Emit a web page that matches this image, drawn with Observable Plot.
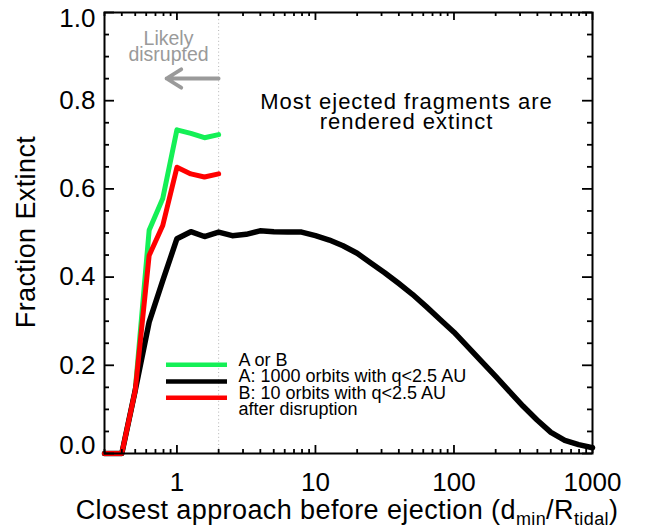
<!DOCTYPE html>
<html>
<head>
<meta charset="utf-8">
<script src="https://cdn.jsdelivr.net/npm/d3@7"></script>
<script src="https://cdn.jsdelivr.net/npm/@observablehq/plot@0.6"></script>
<style>
  html, body { margin: 0; padding: 0; background: #fff; }
</style>
</head>
<body>
<div id="chart"></div>
<script>
// ---------- DATA ----------
const dminA = [0.3, 0.4, 0.5, 0.63, 0.79, 1.0, 1.26, 1.58, 2.0, 2.51, 3.16, 3.98, 5.01, 6.31, 7.94,
               10, 12.6, 15.8, 20, 25.1, 31.6, 39.8, 50.1, 63.1, 79.4,
               100, 126, 158, 200, 251, 316, 398, 501, 631, 794, 1000];
const fracA  = [0, 0, 0.143, 0.298, 0.392, 0.487, 0.503, 0.492, 0.502, 0.494, 0.497, 0.505, 0.503, 0.502, 0.502,
                0.494, 0.484, 0.471, 0.454, 0.432, 0.410, 0.386, 0.361, 0.333, 0.304,
                0.275, 0.242, 0.209, 0.175, 0.141, 0.107, 0.076, 0.048, 0.030, 0.020, 0.013];
const dminB  = [0.3, 0.4, 0.5, 0.63, 0.79, 1.0, 1.26, 1.58, 2.0];
const fracB  = [0, 0, 0.143, 0.449, 0.517, 0.649, 0.634, 0.627, 0.634];
const fracAorB = [0, 0, 0.143, 0.506, 0.578, 0.734, 0.726, 0.716, 0.723];

const seriesNames  = ["A or B", "A: 1000 orbits with q<2.5 AU", "B: 10 orbits with q<2.5 AU\nafter disruption"];
const seriesColors = ["#14f056", "#000000", "#ff0000"];

const xMajorTicks = [1, 10, 100, 1000];
const xMinorTicks = [0.3, 0.4, 0.5, 0.6, 0.7, 0.8, 0.9, 2, 3, 4, 5, 6, 7, 8, 9,
                     20, 30, 40, 50, 60, 70, 80, 90, 200, 300, 400, 500, 600, 700, 800, 900];
const yMajorTicks = [0, 0.2, 0.4, 0.6, 0.8, 1.0];
const yMinorTicks = [0.05, 0.1, 0.15, 0.25, 0.3, 0.35, 0.45, 0.5, 0.55, 0.65, 0.7, 0.75, 0.85, 0.9, 0.95];

const disruptionLimit = 2;
const xTitle = "Closest approach before ejection (dmin/Rtidal)";
const yTitle = "Fraction Extinct";
const noteMain = "Most ejected fragments are\nrendered extinct";
const noteLikely = "Likely\ndisrupted";

// ---------- LAYOUT ----------
const W = 650, H = 529, mL = 104, mR = 58, mT = 12, mB = 76;
const xDomain = [0.3, 1000], yDomain = [0, 1];
const pxPerDecade = (W - mL - mR) / Math.log10(xDomain[1] / xDomain[0]);
const pxPerY = H - mT - mB;
const xAt = px => xDomain[0] * Math.pow(10, (px - mL) / pxPerDecade); // pixel -> data (layout helper)
const yAt = py => (H - mB - py) / pxPerY;
const xShift = (x, px) => x * Math.pow(10, px / pxPerDecade);
const yLen = px => px / pxPerY;

const tableA = dminA.map((d, i) => ({d, f: fracA[i]}));
const tableB = dminB.map((d, i) => ({d, f: fracB[i]}));
const tableAB = dminB.map((d, i) => ({d, f: fracAorB[i]}));

const legendLineY = [yAt(364.3), yAt(381), yAt(397.3)];
const legendRows = seriesNames.map((name, i) => ({name, color: seriesColors[i], y: legendLineY[i]}));

const xTicksAll = [...xMajorTicks.map(v => ({v, len: 8})), ...xMinorTicks.map(v => ({v, len: 4}))];
const yTicksAll = [...yMajorTicks.map(v => ({v, len: 10})), ...yMinorTicks.map(v => ({v, len: 5}))];

const font = "'Liberation Sans', Arial, Helvetica, sans-serif";

const chart = Plot.plot({
  width: W, height: H,
  marginLeft: mL, marginRight: mR, marginTop: mT, marginBottom: mB,
  x: {type: "log", domain: xDomain, label: null},
  y: {domain: yDomain, label: null},
  style: {fontFamily: font, background: "#fff", color: "#000", overflow: "visible"},
  marks: [
    // dotted disruption limit
    Plot.ruleX([disruptionLimit], {stroke: "#b4b4b4", strokeWidth: 1, strokeDasharray: "1,2.6"}),
    // series
    Plot.line(tableAB, {x: "d", y: "f", stroke: seriesColors[0], strokeWidth: 5, strokeLinejoin: "round"}),
    Plot.line(tableA,  {x: "d", y: "f", stroke: seriesColors[1], strokeWidth: 5.5, strokeLinejoin: "round"}),
    Plot.line(tableB,  {x: "d", y: "f", stroke: seriesColors[2], strokeWidth: 5, strokeLinejoin: "round"}),
    // frame
    Plot.frame({stroke: "#000", strokeWidth: 2}),
    // inward ticks on all four sides
    Plot.ruleX(xTicksAll, {x: "v", y1: yDomain[0], y2: d => yDomain[0] + yLen(d.len), stroke: "#000", strokeWidth: 1.8}),
    Plot.ruleX(xTicksAll, {x: "v", y1: yDomain[1], y2: d => yDomain[1] - yLen(d.len), stroke: "#000", strokeWidth: 1.8}),
    Plot.ruleY(yTicksAll, {y: "v", x1: xDomain[0], x2: d => xShift(xDomain[0], d.len), stroke: "#000", strokeWidth: 1.8}),
    Plot.ruleY(yTicksAll, {y: "v", x1: xDomain[1], x2: d => xShift(xDomain[1], -d.len), stroke: "#000", strokeWidth: 1.8}),
    // tick labels
    Plot.axisX(xMajorTicks, {anchor: "bottom", tickSize: 0, tickPadding: 19, fontSize: 26, tickFormat: d => String(d), label: null}),
    Plot.axisY(yMajorTicks.slice(1, -1), {anchor: "left", tickSize: 0, tickPadding: 9, fontSize: 26, tickFormat: d3.format(".1f"), label: null}),
    Plot.axisY(yMajorTicks.slice(0, 1), {anchor: "left", tickSize: 0, tickPadding: 9, fontSize: 26, tickFormat: d3.format(".1f"), label: null, dy: -8}),
    Plot.axisY(yMajorTicks.slice(-1), {anchor: "left", tickSize: 0, tickPadding: 9, fontSize: 26, tickFormat: d3.format(".1f"), label: null, dy: 6}),
    // axis titles
    Plot.text([{t: xTitle, x: xShift(Math.sqrt(xDomain[0] * xDomain[1]), -1.5), y: yAt(509.5)}],
      {x: "x", y: "y", text: "t", fontSize: 27, textAnchor: "middle", lineAnchor: "middle", fill: "#000"}),
    Plot.text([{t: yTitle, x: xAt(26), y: yAt(231.5)}],
      {x: "x", y: "y", text: "t", fontSize: 27, rotate: -90, textAnchor: "middle", lineAnchor: "middle", fill: "#000"}),
    // annotations
    Plot.arrow([{x1: disruptionLimit, x2: xAt(166), y: yAt(78)}],
      {x1: "x1", x2: "x2", y1: "y", y2: "y", stroke: "#9a9a9a", strokeWidth: 3.8, headLength: 11, headAngle: 64}),
    Plot.text([{t: noteLikely, x: xAt(168), y: yAt(46.7 - 0.71 * 19.5)}],
      {x: "x", y: "y", text: "t", fontSize: 19.5, lineHeight: 0.84, lineAnchor: "top", textAnchor: "middle", fill: "#9a9a9a"}),
    Plot.text([{t: noteMain, x: xAt(406), y: yAt(110 - 0.71 * 22)}],
      {x: "x", y: "y", text: "t", fontSize: 22, lineHeight: 0.91, lineAnchor: "top", textAnchor: "middle", fill: "#000"}),
    // legend
    Plot.ruleY(legendRows, {y: "y", x1: xAt(166), x2: xAt(227), stroke: "color", strokeWidth: 4.5}),
    Plot.text(legendRows, {x: xAt(238), y: "y", text: "name", fontSize: 18, lineHeight: 0.88, lineAnchor: "top", textAnchor: "start", dy: -10.3, fill: "#000"})
  ]
});

// subscripts + letter spacing on titles
chart.querySelectorAll("text").forEach(t => {
  const content = t.textContent;
  if (content === xTitle) {
    while (t.firstChild) t.removeChild(t.firstChild);
    const parts = [["Closest approach before ejection (d", 0], ["min", 1], ["/R", 0], ["tidal", 1], [")", 0]];
    let sub = 0;
    parts.forEach(([s, isSub]) => {
      const ts = document.createElementNS("http://www.w3.org/2000/svg", "tspan");
      ts.textContent = s;
      if (isSub) { ts.setAttribute("font-size", "18"); if (!sub) ts.setAttribute("dy", "6"); sub = 1; }
      else if (sub) { ts.setAttribute("dy", "-6"); sub = 0; }
      t.appendChild(ts);
    });
    t.style.letterSpacing = "0.4px";
  } else if (content === yTitle) {
    t.style.letterSpacing = "0.4px";
  } else if (content.startsWith("Most ejected")) {
    t.style.letterSpacing = "1px";
  }
});

document.getElementById("chart").appendChild(chart);
</script>
</body>
</html>
